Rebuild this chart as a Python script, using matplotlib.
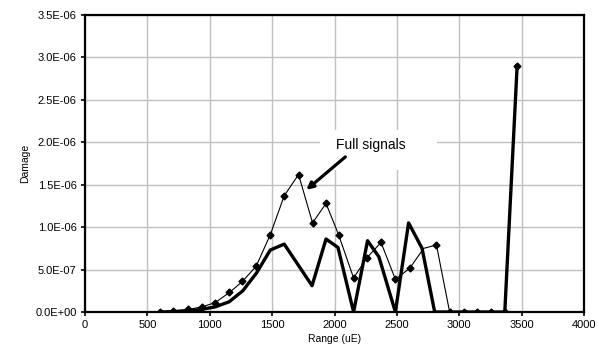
import matplotlib.pyplot as plt
from matplotlib.patches import Rectangle
from matplotlib.ticker import FuncFormatter, MultipleLocator

plt.rcParams["font.family"] = ["Liberation Sans", "DejaVu Sans"]

# thin line with markers: full signals
full_x = [602, 709, 829, 936, 1043, 1158, 1262, 1372, 1485, 1597, 1712, 1824, 1932,
          2033, 2153, 2260, 2373, 2488, 2603, 2715, 2817, 2923, 3040, 3143, 3256, 3365, 3464]
full_y = [0.0, 1.5e-8, 3e-8, 6e-8, 1.1e-7, 2.3e-7, 3.6e-7, 5.4e-7, 9.1e-7, 1.37e-6, 1.62e-6,
          1.05e-6, 1.28e-6, 9.1e-7, 4.0e-7, 6.4e-7, 8.2e-7, 3.85e-7, 5.15e-7, 7.5e-7, 7.9e-7,
          0.0, 0.0, 0.0, 0.0, 0.0, 2.9e-6]
marker_idx = [i for i in range(len(full_x)) if full_x[i] != 2715]

# thick line: other signal
thick_x = [602, 709, 820, 930, 1043, 1155, 1265, 1375, 1485, 1597, 1820, 1932, 2028, 2153,
           2265, 2356, 2488, 2594, 2702, 2803, 2920, 3040, 3145, 3255, 3365, 3464]
thick_y = [0.0, 5e-9, 1e-8, 3e-8, 6e-8, 1.2e-7, 2.5e-7, 4.6e-7, 7.3e-7, 8.0e-7, 3.1e-7,
           8.6e-7, 7.6e-7, 0.0, 8.4e-7, 6.5e-7, 0.0, 1.05e-6, 7.5e-7, 0.0, 0.0, 0.0, 0.0,
           0.0, 0.0, 2.9e-6]

fig = plt.figure(figsize=(5.99, 3.6), dpi=100)
ax = fig.add_axes([85 / 599, 1 - 312 / 360, 499 / 599, 297 / 360])

ax.plot(thick_x, thick_y, color="black", lw=2.4, zorder=3)
ax.plot(full_x, full_y, color="black", lw=0.8, zorder=4,
        marker="D", ms=3.5, markevery=marker_idx)

ax.set_xlim(0, 4000)
ax.set_ylim(0, 3.5e-6)
ax.xaxis.set_major_locator(MultipleLocator(500))
ax.yaxis.set_major_locator(MultipleLocator(5e-7))
ax.yaxis.set_major_formatter(FuncFormatter(lambda v, p: "{:.1E}".format(abs(v) if abs(v) < 1e-12 else v)))
ax.grid(True, color="#c0c0c0", lw=1.0)
ax.set_axisbelow(True)
for s in ax.spines.values():
    s.set_linewidth(1.6)
ax.tick_params(direction="out", length=3, width=1.2, labelsize=8, pad=3)

ax.set_xlabel("Range (uE)", fontsize=7.5, labelpad=3)
ax.set_ylabel("Damage", fontsize=7.5, labelpad=4)

# label box (white, hides gridlines) + label + arrow
ax.add_patch(Rectangle((1886, 1.675e-6), 2825 - 1886, 2.146e-6 - 1.675e-6,
                       fc="white", ec="none", zorder=2))
ax.text(2295, 1.963e-6, "Full signals", fontsize=10, ha="center", va="center", zorder=5)
ax.annotate("", xy=(1774, 1.439e-6), xytext=(2087, 1.828e-6), zorder=5,
            arrowprops=dict(arrowstyle="-|>", color="black", lw=2.3,
                            mutation_scale=10, shrinkA=0, shrinkB=0))

fig.savefig("out.png", dpi=100)
